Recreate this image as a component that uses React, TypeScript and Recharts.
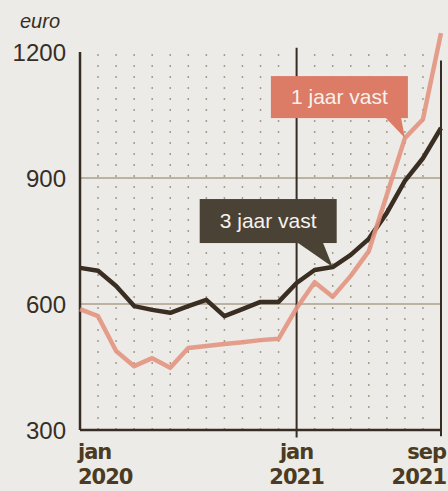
import React from 'react'
import { LineChart, Line, XAxis, YAxis, ReferenceLine, ReferenceDot } from 'recharts'

// maanden vanaf jan 2020 (0) t/m sep 2021 (20)
const months = [0, 1, 2, 3, 4, 5, 6, 7, 8, 9, 10, 11, 12, 13, 14, 15, 16, 17, 18, 19, 20]
const oneYear = [588, 571, 488, 452, 471, 448, 495, 500, 505, 509, 514, 517, 590, 652, 617, 667, 726, 860, 995, 1040, 1245]
const threeYear = [686, 679, 643, 595, 586, 579, 595, 610, 571, 588, 605, 605, 650, 681, 688, 717, 755, 817, 893, 947, 1019]
const yTicks = [300, 600, 900, 1200]
const xTicks = [0, 12, 20]
const xTop = ['jan', 'jan', 'sep']
const xBottom = ['2020', '2021', '2021']
const gridLines = [900, 600]

const INK = '#382d24'
const SALMON = '#e39580'
const SALMON_BOX = '#dc7b66'
const DARK_BOX = '#4b4236'

const data = months.map((m, i) => ({ m, one: oneYear[i], three: threeYear[i] }))

const XTick = (props: any) => {
  const { x, y, payload, index } = props
  const anchor = index === 0 ? 'start' : index === xTicks.length - 1 ? 'end' : 'middle'
  const dx = index === 0 ? -2 : index === xTicks.length - 1 ? 5 : 0
  return (
    <g>
      <text x={x + dx} y={y + 21} textAnchor={anchor} fill="#4a3b22" fontSize={21} fontWeight="bold"
        fontFamily="'DejaVu Sans', sans-serif" letterSpacing={-1}>{xTop[xTicks.indexOf(payload.value)]}</text>
      <text x={x + dx} y={y + 46} textAnchor={anchor} fill="#4a3b22" fontSize={21} fontWeight="bold"
        fontFamily="'DejaVu Sans', sans-serif" letterSpacing={-1}>{xBottom[xTicks.indexOf(payload.value)]}</text>
    </g>
  )
}

const Callout = ({ cx, cy, label, fill, box, tip }: any) => (
  <g>
    <rect x={cx + box[0]} y={cy + box[1]} width={box[2]} height={box[3]} fill={fill} />
    <polygon points={`${cx + tip[0]},${cy + box[1] + box[3] - 1} ${cx + tip[1]},${cy + box[1] + box[3] - 1} ${cx},${cy}`} fill={fill} />
    <text x={cx + box[0] + box[2] / 2} y={cy + box[1] + box[3] / 2 + 7} textAnchor="middle" fill="#f7f2ee"
      fontSize={21} fontFamily="'Liberation Sans', Arial, sans-serif">{label}</text>
  </g>
)

export default function App() {
  return (
    <div style={{ position: 'absolute', left: 0, top: 0, width: 448, height: 491, background: '#ecebe7' }}>
      <div style={{ position: 'absolute', left: 20, top: 10, fontSize: 20, fontStyle: 'italic', color: INK,
        fontFamily: "'Liberation Sans', Arial, sans-serif" }}>euro</div>
      <LineChart width={448} height={491} data={data} margin={{ top: 31, right: 7, bottom: 0, left: 0 }}>
        <XAxis type="number" dataKey="m" domain={[0, 20]} ticks={xTicks} axisLine={false} tickLine={false}
          height={61} tick={<XTick />} interval={0} />
        <YAxis type="number" domain={[300, 1250]} ticks={yTicks} axisLine={false} tickLine={false} width={80}
          tickMargin={8} tick={{ fill: INK, fontSize: 24, fontFamily: "'Liberation Sans', Arial, sans-serif" }} />
        {months.filter(m => !xTicks.includes(m)).map(m => (
          <ReferenceLine key={m} segment={[{ x: m, y: 300 }, { x: m, y: 1200 }]} stroke="#a59c8c"
            strokeWidth={1.5} strokeDasharray="2 9" />
        ))}
        {gridLines.map(v => (
          <ReferenceLine key={v} y={v} stroke="#8a7a5e" strokeWidth={1.2} />
        ))}
        <ReferenceLine segment={[{ x: 0, y: 300 }, { x: 0, y: 1200 }]} stroke={INK} strokeWidth={2.5} />
        <ReferenceLine segment={[{ x: 12, y: 282 }, { x: 12, y: 1210 }]} stroke={INK} strokeWidth={2} ifOverflow="visible" />
        <ReferenceLine segment={[{ x: 20, y: 285 }, { x: 20, y: 1180 }]} stroke={INK} strokeWidth={2} ifOverflow="visible" />
        <ReferenceLine segment={[{ x: 0, y: 300 }, { x: 20, y: 300 }]} stroke={INK} strokeWidth={2.5} />
        <Line type="linear" dataKey="three" stroke="#3a2d22" strokeWidth={4.5} dot={false} strokeLinejoin="round"
          isAnimationActive={false} />
        <Line type="linear" dataKey="one" stroke={SALMON} strokeWidth={4.5} dot={false} strokeLinejoin="round"
          strokeOpacity={0.9} isAnimationActive={false} />
        <ReferenceDot x={18} y={oneYear[18]} r={0}
          shape={(p: any) => <Callout cx={p.cx} cy={p.cy} label="1 jaar vast" fill={SALMON_BOX}
            box={[-134, -62, 137, 42]} tip={[-20, -4]} />} />
        <ReferenceDot x={14} y={threeYear[14]} r={0}
          shape={(p: any) => <Callout cx={p.cx} cy={p.cy} label="3 jaar vast" fill={DARK_BOX}
            box={[-133, -68, 137, 44]} tip={[-36, -10]} />} />
      </LineChart>
    </div>
  )
}
